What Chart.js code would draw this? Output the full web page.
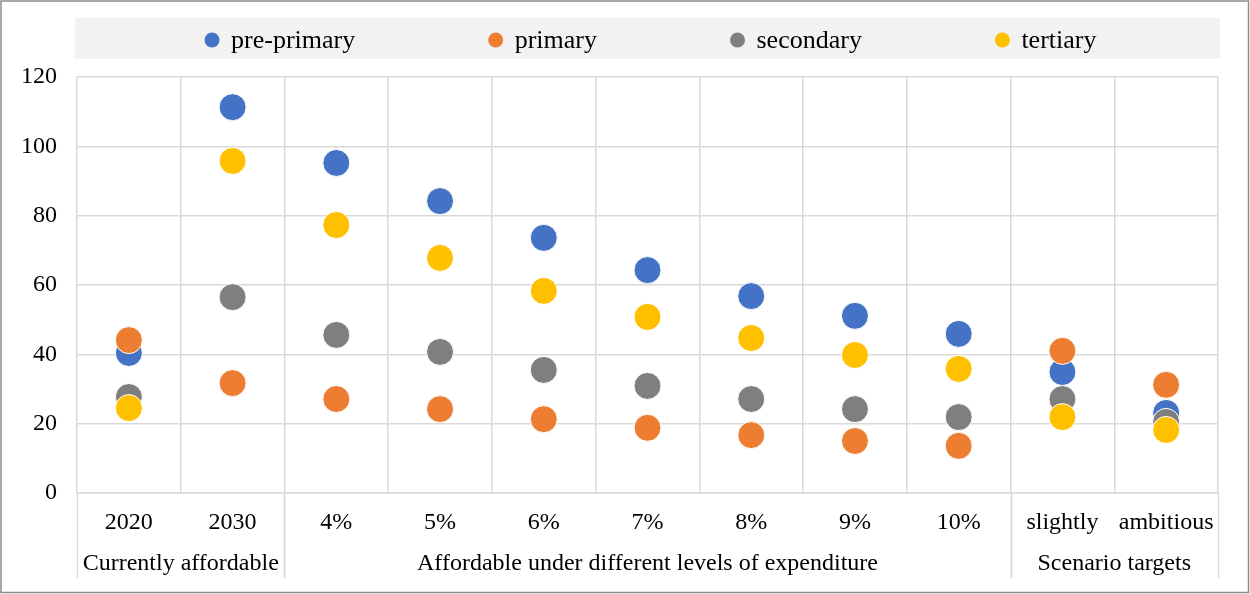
<!DOCTYPE html>
<html>
<head>
<meta charset="utf-8">
<script src="https://cdn.jsdelivr.net/npm/chart.js@4/dist/chart.umd.min.js"></script>
<style>
  html, body { margin: 0; padding: 0; background: #fff; }
  #wrap { width: 1250px; height: 594px; position: relative; }
</style>
</head>
<body>
<div id="wrap"><canvas id="scatterChart"></canvas></div>
<script>
// categories, grouped under the second axis row
const categories = ["2020", "2030", "4%", "5%", "6%", "7%", "8%", "9%", "10%", "slightly", "ambitious"];
const groupLabels = ["Currently affordable", "Affordable under different levels of expenditure", "Scenario targets"];
const groupSizes = [2, 7, 2];

const prePrimary = [40.4, 111.3, 95.2, 84.2, 73.6, 64.3, 56.8, 51.1, 45.9, 34.9, 23.1];
const primary    = [44.1, 31.7, 27.1, 24.2, 21.3, 18.8, 16.7, 15.0, 13.6, 41.0, 31.2];
const secondary  = [27.7, 56.5, 45.6, 40.7, 35.5, 30.9, 27.1, 24.2, 21.9, 27.1, 20.5];
const tertiary   = [24.5, 95.8, 77.3, 67.8, 58.3, 50.8, 44.7, 39.8, 35.8, 21.9, 18.2];

const yTicks = [0, 20, 40, 60, 80, 100, 120];

const serif = "'Liberation Serif', 'Times New Roman', serif";
const gridColor = "#d9d9d9";

function series(label, data, color, order) {
    return {
        label: label,
        data: data,
        showLine: false,
        pointRadius: 13.5,
        pointHoverRadius: 13.5,
        pointBackgroundColor: color,
        pointBorderColor: "#ffffff",
        pointBorderWidth: 1,
        backgroundColor: color,
        borderColor: color,
        order: order
    };
}

// legend band, group row of the x axis, frame
const decorations = {
    id: "decorations",
    beforeDraw(chart) {
        const ctx = chart.ctx;
        const area = chart.chartArea;
        ctx.save();
        ctx.fillStyle = "#f2f2f2";
        ctx.fillRect(area.left - 2, 18, area.right - area.left + 4, 41);

        // legend items, centred in the band
        ctx.font = "26px " + serif;
        ctx.textBaseline = "middle";
        const gapText = 19, gapItem = 133, r = 7.5;
        const items = chart.data.datasets;
        let total = 0;
        items.forEach((d, i) => {
            total += r + gapText + ctx.measureText(d.label).width;
            if (i < items.length - 1) total += gapItem;
        });
        let x = (area.left + area.right) / 2 - total / 2 + 3;
        items.forEach(d => {
            ctx.fillStyle = d.backgroundColor;
            ctx.beginPath();
            ctx.arc(x + r, 40, r, 0, Math.PI * 2);
            ctx.fill();
            x += r;
            ctx.fillStyle = "#000";
            ctx.textAlign = "left";
            ctx.fillText(d.label, x + gapText, 41);
            x += gapText + ctx.measureText(d.label).width + gapItem;
        });
        ctx.restore();
    },
    afterDraw(chart) {
        const ctx = chart.ctx;
        const area = chart.chartArea;
        const xs = chart.scales.x;
        const bottom = area.bottom + 85;
        ctx.save();
        ctx.strokeStyle = gridColor;
        ctx.lineWidth = 1.5;
        ctx.font = "24px " + serif;
        ctx.fillStyle = "#000";
        ctx.textAlign = "center";
        ctx.textBaseline = "middle";
        const step = xs.getPixelForValue(1) - xs.getPixelForValue(0);
        let start = 0;
        groupSizes.forEach((n, g) => {
            const left = xs.getPixelForValue(start) - step / 2;
            const right = xs.getPixelForValue(start + n - 1) + step / 2;
            [left, right].forEach(px => {
                ctx.beginPath();
                ctx.moveTo(Math.round(px) + 0.5, area.bottom);
                ctx.lineTo(Math.round(px) + 0.5, bottom);
                ctx.stroke();
            });
            ctx.fillText(groupLabels[g], (left + right) / 2, area.bottom + 71);
            start += n;
        });
        ctx.strokeStyle = "#8c8c8c";
        ctx.lineWidth = 1.5;
        ctx.strokeRect(1, 1, chart.width - 2.5, chart.height - 2.5);
        ctx.restore();
    }
};

const ctx = document.getElementById("scatterChart").getContext("2d");

window.scatterChartInstance = new Chart(ctx, {
    type: "line",
    data: {
        labels: categories,
        datasets: [
            series("pre-primary", prePrimary, "#4472c4", 4),
            series("primary", primary, "#ed7d31", 3),
            series("secondary", secondary, "#7f7f7f", 2),
            series("tertiary", tertiary, "#ffc000", 1)
        ]
    },
    plugins: [decorations],
    options: {
        responsive: true,
        maintainAspectRatio: false,
        animation: false,
        layout: {
            padding: { top: 77, right: 32, bottom: 0, left: 0 }
        },
        plugins: {
            legend: { display: false },
            tooltip: { enabled: false }
        },
        scales: {
            x: {
                offset: true,
                grid: {
                    offset: true,
                    color: gridColor,
                    lineWidth: 1.5,
                    drawTicks: false
                },
                border: { color: gridColor, width: 1.5 },
                ticks: {
                    color: "#000",
                    font: { family: serif, size: 24 },
                    padding: 15,
                    maxRotation: 0,
                    autoSkip: false
                },
                afterFit(scale) { scale.height = 101; }
            },
            y: {
                min: 0,
                max: 120,
                afterBuildTicks(scale) {
                    scale.ticks = yTicks.map(v => ({ value: v }));
                },
                grid: {
                    color: gridColor,
                    lineWidth: 1.5,
                    drawTicks: false
                },
                border: { display: false },
                ticks: {
                    color: "#000",
                    font: { family: serif, size: 24 },
                    padding: 20
                },
                afterFit(scale) { scale.width = 77; }
            }
        }
    }
});
</script>
</body>
</html>
